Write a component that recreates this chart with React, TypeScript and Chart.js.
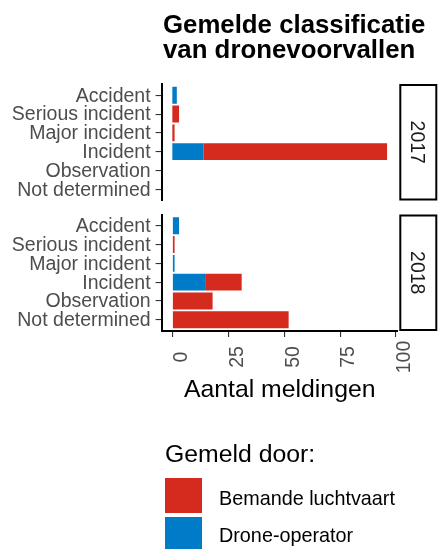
import React, { useEffect, useRef } from "react";
import { Chart, registerables } from "chart.js";

Chart.register(...registerables);

// ---- data ----
const categories = [
  "Accident",
  "Serious incident",
  "Major incident",
  "Incident",
  "Observation",
  "Not determined",
];
const years = ["2017", "2018"];
const droneOperator2017 = [2, 0, 0, 14, 0, 0];
const bemande2017 = [0, 3, 1, 82, 0, 0];
const droneOperator2018 = [3, 0, 1, 15, 0, 0];
const bemande2018 = [0, 1, 0, 16, 18, 52];
const xTickValues = [0, 25, 50, 75, 100];
const xTickLabels = ["0", "25", "50", "75", "100"];
const seriesLabels = ["Bemande luchtvaart", "Drone-operator"];
const chartTitle = ["Gemelde classificatie", "van dronevoorvallen"];
const xAxisTitle = "Aantal meldingen";
const legendTitle = "Gemeld door:";

// ---- styling / layout ----
const W = 438;
const H = 549;
const RED = "#D52B1E";
const BLUE = "#007BC7";
const FONT = "'Liberation Sans', Arial, Helvetica, sans-serif";
const X_MIN = -4.8;
const X_MAX = 100.8;
const Y_EXPAND = 0.6;
const PLOT_LEFT = 161.6;
const PLOT_RIGHT = 397.8;
const PANEL_BOUNDS = [
  { top: 84, bottom: 200.5 },
  { top: 214.5, bottom: 331 },
];

function stripPlugin(label: string) {
  return {
    id: "strip" + label,
    afterDraw(chart: any) {
      const ctx = chart.ctx as CanvasRenderingContext2D;
      const a = chart.chartArea;
      const x0 = a.right + 1.5;
      const x1 = 436.3;
      ctx.save();
      ctx.strokeStyle = "#000";
      ctx.lineWidth = 2;
      ctx.strokeRect(x0 + 1, a.top + 1, x1 - x0 - 1, a.bottom - a.top - 2);
      const cx = (x0 + x1 + 1) / 2;
      const cy = (a.top + a.bottom) / 2;
      ctx.translate(cx, cy);
      ctx.rotate(Math.PI / 2);
      ctx.fillStyle = "#1A1A1A";
      ctx.font = `19.5px ${FONT}`;
      ctx.textAlign = "center";
      ctx.textBaseline = "alphabetic";
      ctx.fillText(label, 0, 7);
      ctx.restore();
    },
  };
}

const decorPlugin = {
  id: "decor",
  afterDraw(chart: any) {
    const ctx = chart.ctx as CanvasRenderingContext2D;
    const xs = chart.scales.x;
    const a = chart.chartArea;
    ctx.save();
    // title
    ctx.fillStyle = "#000";
    ctx.font = `bold 25.8px ${FONT}`;
    ctx.textAlign = "left";
    ctx.textBaseline = "alphabetic";
    ctx.fillText(chartTitle[0], 163, 33);
    ctx.fillText(chartTitle[1], 163, 57.5);

    // x tick labels (rotated)
    ctx.fillStyle = "#4D4D4D";
    ctx.font = `19.5px ${FONT}`;
    xs.ticks.forEach((t: any) => {
      const px = xs.getPixelForValue(t.value);
      ctx.save();
      ctx.translate(px, 357);
      ctx.rotate(-Math.PI / 2);
      ctx.textAlign = "center";
      ctx.textBaseline = "alphabetic";
      const idx = xTickValues.indexOf(t.value);
      ctx.fillText(idx >= 0 ? xTickLabels[idx] : String(t.value), 0, 14.4);
      ctx.restore();
    });

    // x axis title
    ctx.fillStyle = "#000";
    ctx.font = `24.8px ${FONT}`;
    ctx.textAlign = "center";
    ctx.fillText(xAxisTitle, (a.left + a.right) / 2, 397);

    // legend
    ctx.textAlign = "left";
    ctx.fillText(legendTitle, 165, 462);
    ctx.fillStyle = RED;
    ctx.fillRect(165, 478, 37, 35);
    ctx.fillStyle = BLUE;
    ctx.fillRect(165, 517, 37, 35);
    ctx.fillStyle = "#000";
    ctx.font = `19.8px ${FONT}`;
    ctx.fillText(seriesLabels[0], 219, 505);
    ctx.fillText(seriesLabels[1], 219, 542);
    ctx.restore();
  },
};

function makeConfig(panel: number): any {
  const isBottom = panel === 1;
  const drone = panel === 0 ? droneOperator2017 : droneOperator2018;
  const manned = panel === 0 ? bemande2017 : bemande2018;
  const b = PANEL_BOUNDS[panel];
  const barCommon = {
    borderWidth: 0,
    barPercentage: 0.9,
    categoryPercentage: 1,
    stack: "s",
  };
  return {
    type: "bar",
    data: {
      datasets: [
        {
          label: seriesLabels[1],
          data: drone.map((v, i) => ({ x: v, y: i })),
          backgroundColor: BLUE,
          ...barCommon,
        },
        {
          label: seriesLabels[0],
          data: manned.map((v, i) => ({ x: v, y: i })),
          backgroundColor: RED,
          ...barCommon,
        },
      ],
    },
    options: {
      indexAxis: "y",
      responsive: false,
      maintainAspectRatio: false,
      animation: false,
      devicePixelRatio: 1,
      events: [],
      layout: {
        padding: { left: 0, top: b.top, right: W - PLOT_RIGHT, bottom: H - b.bottom },
      },
      plugins: {
        legend: { display: false },
        tooltip: { enabled: false },
        title: { display: false },
      },
      scales: {
        x: {
          type: "linear",
          stacked: true,
          min: X_MIN,
          max: X_MAX,
          display: isBottom,
          afterBuildTicks: (s: any) => {
            s.ticks = xTickValues.map((v) => ({ value: v }));
          },
          afterFit: (s: any) => {
            s.height = 0;
            s.paddingLeft = 0;
            s.paddingRight = 0;
          },
          grid: {
            display: true,
            drawOnChartArea: false,
            drawTicks: true,
            tickLength: 6,
            color: "#333333",
            lineWidth: 1.1,
          },
          border: { display: true, color: "#000", width: 2 },
          ticks: { display: false },
        },
        y: {
          type: "linear",
          stacked: true,
          reverse: true,
          offset: false,
          bounds: "data",
          grace: 0,
          min: -Y_EXPAND,
          max: categories.length - 1 + Y_EXPAND,
          afterDataLimits: (s: any) => {
            s.min = -Y_EXPAND;
            s.max = categories.length - 1 + Y_EXPAND;
          },
          afterBuildTicks: (s: any) => {
            s.ticks = categories.map((_, i) => ({ value: i }));
            s.min = -Y_EXPAND;
            s.max = categories.length - 1 + Y_EXPAND;
          },
          afterFit: (s: any) => {
            s.width = PLOT_LEFT;
            s.paddingTop = 0;
            s.paddingBottom = 0;
          },
          grid: {
            display: true,
            offset: false,
            drawOnChartArea: false,
            drawTicks: true,
            tickLength: 6,
            color: "#333333",
            lineWidth: 1.1,
          },
          border: { display: true, color: "#000", width: 2 },
          ticks: {
            autoSkip: false,
            padding: 5,
            labelOffset: 1,
            color: "#4D4D4D",
            font: { family: FONT, size: 19.5 },
            callback: (v: any) => categories[Math.round(Number(v))] ?? "",
          },
        },
      },
    },
    plugins: isBottom ? [stripPlugin(years[panel]), decorPlugin] : [stripPlugin(years[panel])],
  };
}

export default function App() {
  const refA = useRef<HTMLCanvasElement | null>(null);
  const refB = useRef<HTMLCanvasElement | null>(null);

  useEffect(() => {
    const charts: Chart[] = [];
    if (refA.current) charts.push(new Chart(refA.current, makeConfig(0)));
    if (refB.current) charts.push(new Chart(refB.current, makeConfig(1)));
    return () => charts.forEach((c) => c.destroy());
  }, []);

  const canvasStyle: React.CSSProperties = {
    position: "absolute",
    left: 0,
    top: 0,
    width: W,
    height: H,
  };

  return (
    <div style={{ position: "absolute", left: 0, top: 0, width: W, height: H, background: "#fff" }}>
      <canvas ref={refA} width={W} height={H} style={canvasStyle} />
      <canvas ref={refB} width={W} height={H} style={canvasStyle} />
    </div>
  );
}
